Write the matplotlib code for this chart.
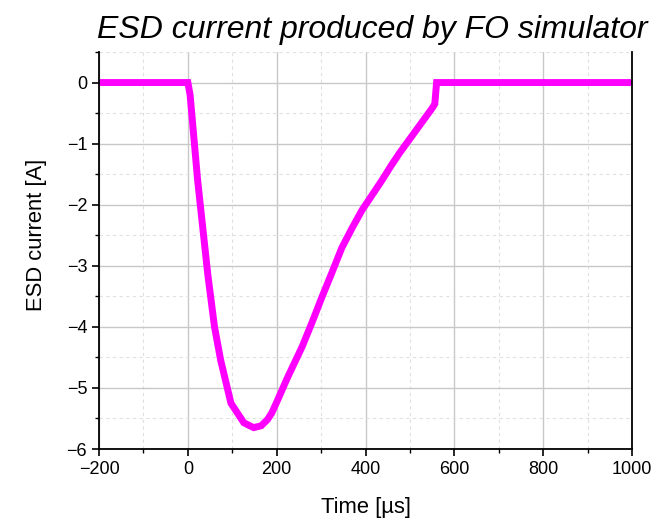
import matplotlib
matplotlib.use("Agg")
import matplotlib.pyplot as plt
from matplotlib.ticker import MultipleLocator

plt.rcParams['font.family'] = ['Liberation Sans', 'DejaVu Sans']

# time [us] and ESD current [A] (centre of the noisy band)
time_us = [-200, -150, -100, -50, 0, 5, 22, 45, 60, 74, 97, 126, 148, 165, 179,
           189, 202, 225, 257, 280, 302, 325, 347, 370, 392, 415, 437, 456, 476,
           495, 514, 532, 550, 556, 560, 600, 700, 800, 900, 1000]
current_a = [0.0, 0.0, 0.0, 0.0, 0.0, -0.2, -1.6, -3.15, -4.0, -4.55, -5.25, -5.57,
             -5.65, -5.62, -5.52, -5.41, -5.2, -4.82, -4.33, -3.92, -3.51, -3.1,
             -2.7, -2.38, -2.09, -1.84, -1.6, -1.38, -1.16, -0.97, -0.78, -0.6,
             -0.42, -0.35, 0.0, 0.0, 0.0, 0.0, 0.0, 0.0]

fig = plt.figure(figsize=(6.62, 5.18), dpi=100)
ax = fig.add_axes([0.1496, 0.1332, 0.8051, 0.7664])

ax.plot(time_us, current_a, color='#ff00ff', lw=5, solid_joinstyle='miter')

ax.set_xlim(-200, 1000)
ax.set_ylim(-6, 0.5)
ax.xaxis.set_major_locator(MultipleLocator(200))
ax.xaxis.set_minor_locator(MultipleLocator(100))
ax.yaxis.set_major_locator(MultipleLocator(1))
ax.yaxis.set_minor_locator(MultipleLocator(0.5))

ax.grid(which='major', color='#c8c8c8', lw=1.0, ls='-')
ax.grid(which='minor', color='#e0e0e0', lw=0.8, ls=(0, (3, 3)))
ax.set_axisbelow(True)

ax.spines['top'].set_visible(False)
for s in ['left', 'bottom', 'right']:
    ax.spines[s].set_linewidth(1.3)
ax.tick_params(which='major', direction='out', length=5, width=1.2, labelsize=13)
ax.tick_params(which='minor', direction='out', length=3, width=1.0)

ax.set_xlabel('Time [µs]', fontsize=15.8, labelpad=14)
ax.set_ylabel('ESD current [A]', fontsize=15.8, labelpad=14)
ax.yaxis.label.set_y(0.54)
ax.set_title('ESD current produced by FO simulator', fontsize=23, style='italic', pad=10,
             x=0.513)

fig.savefig('out.png', dpi=100)
